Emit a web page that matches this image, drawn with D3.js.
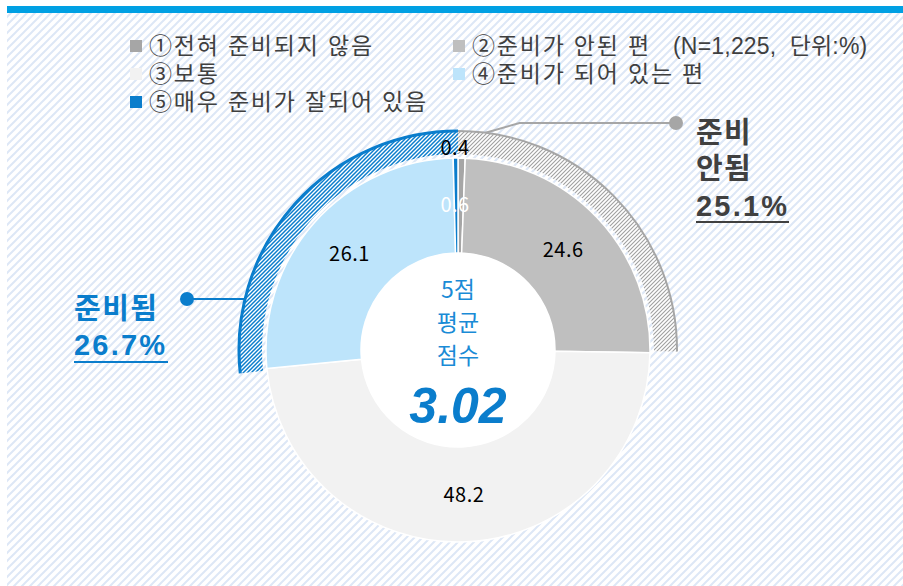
<!DOCTYPE html>
<html><head><meta charset="utf-8">
<script src="https://cdn.jsdelivr.net/npm/d3@7"></script>
<style>html,body{margin:0;padding:0;background:#fff;}svg{display:block;}</style>
</head><body><svg id="c" width="903" height="586"></svg>
<script>
// ---- data ----
const categories = ["①전혀 준비되지 않음","②준비가 안된 편","③보통","④준비가 되어 있는 편","⑤매우 준비가 잘되어 있음"];
const values = [0.6, 24.6, 48.2, 26.1, 0.4];
const groupLabels = ["준비 안됨", "준비됨"];
const groupValues = [25.1, 26.7];
const meanLabel = ["5점", "평균", "점수"];
const meanScore = 3.02;
const noteText = "(N=1,225,  단위:%)";

// ---- styles ----
const palette = ["#a6a6a6", "#bfbfbf", "#f2f2f2", "#bde4fb", "#0a7dcc"];
const color = d3.scaleOrdinal(categories, palette);
const FONT = "'Noto Sans CJK KR','Noto Sans',sans-serif";
const LFONT = "'Liberation Sans','Noto Sans CJK KR',sans-serif";
const W = 903, H = 586;
const cx = 458, cy = 350, rOut = 192, rIn = 97, ringIn = 196, ringOut = 219;

const svg = d3.select("#c");
const defs = svg.append("defs");
function stripe(id, size, col, sw) {
  const p = defs.append("pattern").attr("id", id).attr("patternUnits", "userSpaceOnUse")
    .attr("width", size).attr("height", size);
  p.append("path").attr("d", `M${-size/2},${size/2} l${size},${-size} M0,${size} l${size},${-size} M${size/2},${size*1.5} l${size},${-size}`)
    .attr("stroke", col).attr("stroke-width", sw);
}
stripe("bg", 8, "#dde7f6", 2);
stripe("hg", 4, "#a0a0a0", 1.1);
stripe("hb", 4, "#0a7dcc", 1.5);

svg.append("rect").attr("x", 7).attr("y", 13).attr("width", W - 7).attr("height", H - 13).attr("fill", "url(#bg)");
svg.append("rect").attr("x", 7).attr("y", 6).attr("width", W - 7).attr("height", 7).attr("fill", "#00a0e3");

// ---- legend ----
const legCols = [130, 453], legRows = [46, 74, 102];
const leg = svg.append("g");
categories.forEach((c, i) => {
  const col = i % 2, x = legCols[col], y = legRows[Math.floor(i / 2)];
  leg.append("rect").attr("x", x).attr("y", y - 6).attr("width", 12).attr("height", 12).attr("fill", color(c));
  leg.append("text").attr("x", x + 19).attr("y", y).attr("dy", "0.36em")
    .attr("font-family", LFONT).attr("font-size", 23).attr("letter-spacing", 1.8).attr("fill", "#3f3f3f").text(c);
});
leg.append("text").attr("x", 673).attr("y", legRows[0]).attr("dy", "0.36em").attr("letter-spacing", 0.2)
  .attr("font-family", LFONT).attr("font-size", 23).attr("fill", "#3f3f3f")
  .attr("xml:space", "preserve").text(noteText);

// ---- donut ----
const g = svg.append("g").attr("transform", `translate(${cx},${cy})`);
const pie = d3.pie().sort(null).value(d => d.v).startAngle(0).endAngle(2 * Math.PI);
const data = pie(categories.map((c, i) => ({ c, v: values[i] })));
const arc = d3.arc().innerRadius(rIn).outerRadius(rOut);
g.selectAll("path.s").data(data).join("path").attr("class", "s")
  .attr("d", arc).attr("fill", d => color(d.data.c)).attr("stroke", "#fff").attr("stroke-width", 1.5);
g.append("circle").attr("r", rIn).attr("fill", "#fff");

// ---- group rings ----
const ang = d3.scaleLinear().domain([0, 100]).range([0, 2 * Math.PI]);
const ringArc = d3.arc().innerRadius(ringIn).outerRadius(ringOut);
const rings = [
  { s: 0, e: ang(groupValues[0]), pat: "url(#hg)", col: "#a6a6a6", sw: 2 },
  { s: -ang(groupValues[1]), e: 0, pat: "url(#hb)", col: "#0a7dcc", sw: 3 }
];
rings.forEach(r => {
  g.append("path").attr("d", ringArc({ startAngle: r.s, endAngle: r.e })).attr("fill", "#fff");
  g.append("path").attr("d", ringArc({ startAngle: r.s, endAngle: r.e })).attr("fill", r.pat);
  const p = d3.path();
  p.arc(0, 0, ringOut, r.s - Math.PI / 2, r.e - Math.PI / 2);
  g.append("path").attr("d", p.toString()).attr("fill", "none").attr("stroke", r.col).attr("stroke-width", r.sw);
});

// ---- slice labels ----
const lab = d3.arc().innerRadius(145).outerRadius(145);
data.forEach((d, i) => {
  let [x, y] = lab.centroid(d);
  let fill = "#000";
  if (d.data.v < 1) {
    const rr = i === 0 ? 145 : 202;
    x = -3; y = -rr;
    if (i === 0) fill = "#fff";
  }
  g.append("text").attr("x", x).attr("y", y).attr("dy", "0.36em").attr("text-anchor", "middle")
    .attr("letter-spacing", 0.5)
    .attr("font-family", FONT).attr("font-size", 20).attr("fill", fill).text(d.data.v.toFixed(1));
});

// ---- center ----
const ct = g.append("text").attr("text-anchor", "middle").attr("font-family", FONT).attr("font-size", 23).attr("fill", "#1a8bd6");
meanLabel.forEach((t, i) => {
  ct.append("tspan").attr("x", 0).attr("y", -60 + i * 33).attr("dy", "0.36em").text(t);
});
g.append("text").attr("x", 0).attr("y", 55).attr("dy", "0.36em").attr("text-anchor", "middle")
  .attr("font-family", "'Liberation Sans',Arial,sans-serif").attr("font-size", 50).attr("font-weight", "bold")
  .attr("font-style", "italic").attr("fill", "#0a7dcc").text(meanScore.toFixed(2));

// ---- callouts ----
// not ready (gray)
const pA = ang(groupValues[0]) * 0.08;
const gx0 = ringOut * Math.sin(pA), gy0 = -ringOut * Math.cos(pA);
g.append("path").attr("d", `M${gx0},${gy0} L${gx0 + 34},${-227} L${676 - cx},${-227}`)
  .attr("fill", "none").attr("stroke", "#a6a6a6").attr("stroke-width", 2);
g.append("circle").attr("cx", 676 - cx).attr("cy", -227).attr("r", 7).attr("fill", "#a6a6a6");
const gl = groupLabels[0].split(" ");
const rt = svg.append("g").attr("font-family", LFONT).attr("font-weight", "bold").attr("fill", "#404040")
  .attr("font-size", 29).attr("letter-spacing", 1.2);
rt.append("text").attr("x", 696).attr("y", 133).attr("dy", "0.36em").text(gl[0]);
rt.append("text").attr("x", 696).attr("y", 169).attr("dy", "0.36em").text(gl[1]);
rt.append("text").attr("x", 696).attr("y", 206).attr("dy", "0.36em").attr("letter-spacing", 2.2).text(groupValues[0].toFixed(1) + "%");
svg.append("rect").attr("x", 696).attr("y", 221).attr("width", 93).attr("height", 2).attr("fill", "#404040");

// ready (blue)
const by = 299 - cy;
const bx = -Math.sqrt(ringOut * ringOut - by * by);
g.append("line").attr("x1", 187 - cx).attr("y1", by).attr("x2", bx).attr("y2", by).attr("stroke", "#0a7dcc").attr("stroke-width", 2);
g.append("circle").attr("cx", 187 - cx).attr("cy", by).attr("r", 7).attr("fill", "#0a7dcc");
const lt = svg.append("g").attr("font-family", LFONT).attr("font-weight", "bold").attr("fill", "#0a7dcc")
  .attr("font-size", 29).attr("letter-spacing", 1.5);
lt.append("text").attr("x", 74).attr("y", 309).attr("dy", "0.36em").text(groupLabels[1]);
lt.append("text").attr("x", 74).attr("y", 345).attr("dy", "0.36em").attr("letter-spacing", 2.2).text(groupValues[1].toFixed(1) + "%");
svg.append("rect").attr("x", 74).attr("y", 361).attr("width", 94).attr("height", 2).attr("fill", "#0a7dcc");
</script></body></html>
